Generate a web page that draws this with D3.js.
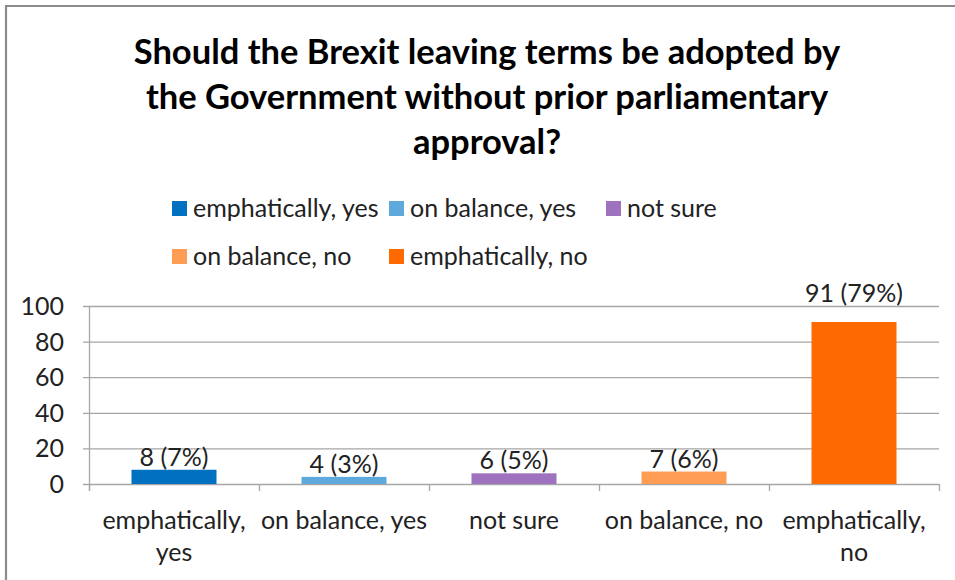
<!DOCTYPE html>
<html><head><meta charset="utf-8">
<script src="https://cdn.jsdelivr.net/npm/d3@7"></script>
<style>
html,body{margin:0;padding:0;background:#fff;}
svg text{font-family:Lato,"Open Sans",sans-serif;}
</style></head>
<body>
<svg id="chart" width="955" height="580"></svg>
<script>
const titleLines = ["Should the Brexit leaving terms be adopted by","the Government without prior parliamentary","approval?"];
const categories = ["emphatically, yes","on balance, yes","not sure","on balance, no","emphatically, no"];
const categoryLines = [["emphatically,","yes"],["on balance, yes"],["not sure"],["on balance, no"],["emphatically,","no"]];
const values = [8,4,6,7,91];
const percents = [7,3,5,6,79];
const colors = ["#0070C0","#5FA8DC","#9E72BE","#FF9D55","#FF6A00"];
const yTicks = [0,20,40,60,80,100];

const svg = d3.select("#chart");
const W = 955, H = 580;
const plot = {left:89, right:939, top:306, bottom:484};
const fs = 25;

// outer frame
svg.append("path").attr("d",`M6,${H+2}V6H${W+2}`).attr("fill","none").attr("stroke","#8c8c8c").attr("stroke-width",2.2);

// title
svg.append("g").selectAll("text").data(titleLines).join("text")
  .attr("x",487).attr("y",(d,i)=>64+i*45)
  .attr("text-anchor","middle").attr("font-size",34.5).attr("font-weight","bold").attr("fill","#000")
  .text(d=>d);

// legend
const legendPos = [[172,208],[389,208],[606,208],[172,256],[389,256]];
const lg = svg.append("g").selectAll("g").data(categories).join("g")
  .attr("transform",(d,i)=>`translate(${legendPos[i][0]},${legendPos[i][1]})`);
lg.append("rect").attr("x",0).attr("y",-7).attr("width",15).attr("height",15).attr("fill",(d,i)=>colors[i]);
lg.append("text").attr("x",21).attr("y",9).attr("font-size",fs).attr("fill","#222").text(d=>d);

const x = d3.scaleBand().domain(categories).range([plot.left,plot.right]).paddingInner(0.5).paddingOuter(0.25);
const y = d3.scaleLinear().domain([0,100]).range([plot.bottom,plot.top]);

// gridlines
svg.append("g").selectAll("line").data(yTicks).join("line")
  .attr("x1",plot.left-6).attr("x2",plot.right)
  .attr("y1",d=>y(d)+0.5).attr("y2",d=>y(d)+0.5)
  .attr("stroke","#a6a6a6").attr("stroke-width",1.3);

// y axis line
svg.append("line").attr("x1",plot.left+0.5).attr("x2",plot.left+0.5).attr("y1",plot.top).attr("y2",plot.bottom+7)
  .attr("stroke","#a6a6a6").attr("stroke-width",1.3);
// category ticks
const bounds = categories.map(c=>x(c)-x.step()*x.paddingInner()/2).concat([plot.right]);
svg.append("g").selectAll("line").data(bounds).join("line")
  .attr("x1",d=>d+0.5).attr("x2",d=>d+0.5).attr("y1",plot.bottom).attr("y2",plot.bottom+7)
  .attr("stroke","#a6a6a6").attr("stroke-width",1.3);

// y labels
svg.append("g").selectAll("text").data(yTicks).join("text")
  .attr("x",64).attr("y",d=>y(d)+9).attr("text-anchor","end").attr("font-size",fs).attr("fill","#222")
  .text(d=>d);

// bars
svg.append("g").selectAll("rect").data(values).join("rect")
  .attr("x",(d,i)=>x(categories[i])).attr("width",x.bandwidth())
  .attr("y",d=>y(d)).attr("height",d=>y(0)-y(d)).attr("fill",(d,i)=>colors[i]);

// data labels (labels of bars reaching near the plot top are lifted above the top gridline)
svg.append("g").selectAll("text").data(values).join("text")
  .attr("x",(d,i)=>x(categories[i])+x.bandwidth()/2)
  .attr("y",d=>(y(d)-plot.top > 25) ? y(d)-4 : plot.top-4)
  .attr("text-anchor","middle").attr("font-size",fs).attr("fill","#222")
  .text((d,i)=>`${d} (${percents[i]}%)`);

// category labels
const cl = svg.append("g").selectAll("text").data(categoryLines).join("text")
  .attr("text-anchor","middle").attr("font-size",fs).attr("fill","#222")
  .attr("transform",(d,i)=>`translate(${x(categories[i])+x.bandwidth()/2},529)`);
cl.selectAll("tspan").data(d=>d).join("tspan").attr("x",0).attr("y",(d,i)=>i*32).text(d=>d);
</script>
</body></html>
